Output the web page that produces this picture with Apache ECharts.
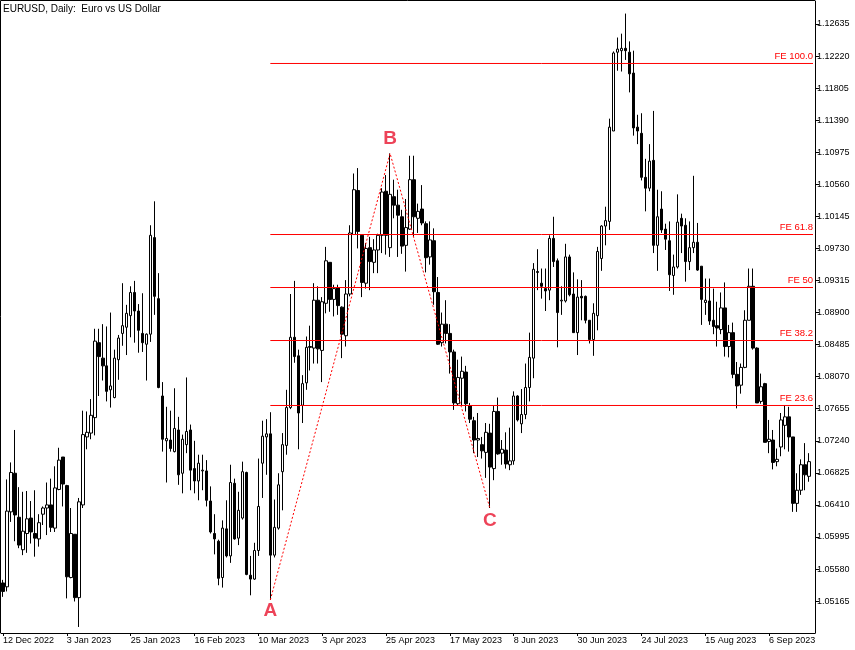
<!DOCTYPE html>
<html><head><meta charset="utf-8">
<script src="https://cdn.jsdelivr.net/npm/echarts@6/dist/echarts.min.js"></script>
<style>html,body{margin:0;padding:0;background:#fff}#c{width:855px;height:650px}</style>
</head><body><div id="c"></div><script>
const titleText = 'EURUSD, Daily:  Euro vs US Dollar';
const opens = [1.0540,1.0535,1.0632,1.0682,1.0625,1.0583,1.0604,1.0624,1.0604,1.0597,
1.0629,1.0637,1.0641,1.0611,1.0661,1.0703,1.0666,1.0547,1.0603,1.0521,
1.0641,1.0729,1.0734,1.0754,1.0851,1.0831,1.0821,1.0790,1.0780,1.0829,
1.0863,1.0871,1.0886,1.0916,1.0892,1.0863,1.0849,1.0862,1.0987,1.0908,
1.0782,1.0724,1.0725,1.0710,1.0738,1.0682,1.0719,1.0738,1.0688,1.0672,
1.0685,1.0685,1.0646,1.0604,1.0594,1.0547,1.0610,1.0575,1.0669,1.0598,
1.0624,1.0683,1.0550,1.0545,1.0582,1.0695,1.0729,1.0733,1.0576,1.0611,
1.0684,1.0718,1.0767,1.0858,1.0834,1.0770,1.0799,1.0846,1.0844,1.0906,
1.0841,1.0902,1.0955,1.0907,1.0922,1.0897,1.0860,1.0914,1.0991,1.1048,
1.0990,1.0928,1.0974,1.0955,1.0971,1.0990,1.1047,1.0974,1.1040,1.1029,
1.1014,1.0977,1.0998,1.1062,1.1012,1.1024,1.1005,1.0962,1.0983,1.0916,
1.0851,1.0875,1.0863,1.0839,1.0772,1.0805,1.0813,1.0769,1.0750,1.0725,
1.0719,1.0709,1.0734,1.0688,1.0762,1.0708,1.0712,1.0693,1.0698,1.0782,
1.0746,1.0758,1.0793,1.0831,1.0943,1.0928,1.0921,1.0919,1.0986,1.0957,
1.0905,1.0905,1.0962,1.0914,1.0864,1.0911,1.0911,1.0880,1.0855,1.0886,
1.0960,1.1002,1.1008,1.1125,1.1227,1.1229,1.1232,1.1227,1.1200,1.1130,
1.1122,1.1065,1.1051,1.1087,1.0977,1.1024,1.0998,1.0983,1.0938,1.0949,
1.1012,1.1003,1.0956,1.0974,1.0981,1.0950,1.0903,1.0905,1.0880,1.0873,
1.0868,1.0896,1.0846,1.0864,1.0810,1.0796,1.0819,1.0880,1.0924,1.0844,
1.0775,1.0798,1.0723,1.0725,1.0697,1.0716,1.0744,1.0755,1.0729,1.0643,
1.0660,1.0693,1.0678];
const highs = [1.0544,1.0674,1.0696,1.0738,1.0664,1.0658,1.0659,1.0646,1.0660,1.0629,
1.0639,1.0670,1.0675,1.0691,1.0715,1.0703,1.0667,1.0637,1.0603,1.0650,
1.0763,1.0762,1.0778,1.0869,1.0869,1.0875,1.0872,1.0890,1.0842,1.0861,
1.0928,1.0900,1.0924,1.0931,1.0901,1.0915,1.0863,1.1003,1.1034,1.0941,
1.0800,1.0768,1.0763,1.0792,1.0755,1.0732,1.0806,1.0745,1.0724,1.0706,
1.0706,1.0699,1.0665,1.0629,1.0596,1.0621,1.0647,1.0693,1.0675,1.0658,
1.0697,1.0684,1.0575,1.0592,1.0701,1.0750,1.0752,1.0761,1.0648,1.0682,
1.0734,1.0790,1.0914,1.0931,1.0842,1.0809,1.0859,1.0873,1.0928,1.0924,
1.0910,1.0975,1.0955,1.0926,1.0926,1.0898,1.0932,1.1003,1.1070,1.1077,
1.0990,1.0980,1.0988,1.0985,1.0992,1.1051,1.1068,1.1096,1.1062,1.1049,
1.1023,1.1037,1.1093,1.1093,1.1031,1.1055,1.1008,1.1008,1.0999,1.0936,
1.0890,1.0906,1.0875,1.0842,1.0829,1.0833,1.0821,1.0773,1.0755,1.0760,
1.0729,1.0747,1.0746,1.0769,1.0780,1.0725,1.0735,1.0741,1.0788,1.0783,
1.0791,1.0824,1.0864,1.0954,1.0972,1.0947,1.0947,1.0990,1.1014,1.0960,
1.0924,1.0979,1.0965,1.0942,1.0933,1.0932,1.0912,1.0880,1.0902,1.0975,
1.1003,1.1027,1.1141,1.1228,1.1246,1.1251,1.1277,1.1241,1.1229,1.1146,
1.1148,1.1089,1.1108,1.1151,1.1049,1.1047,1.1005,1.1008,1.0965,1.1043,
1.1018,1.1012,1.1008,1.1067,1.1006,1.0950,1.0934,1.0934,1.0921,1.0904,
1.0916,1.0929,1.0874,1.0877,1.0826,1.0824,1.0893,1.0947,1.0947,1.0845,
1.0811,1.0799,1.0751,1.0738,1.0714,1.0760,1.0770,1.0768,1.0729,1.0682,
1.0700,1.0721,1.0708];
const lows = [1.0522,1.0529,1.0619,1.0594,1.0585,1.0576,1.0579,1.0591,1.0574,1.0587,
1.0615,1.0602,1.0606,1.0606,1.0660,1.0639,1.0520,1.0546,1.0516,1.0483,
1.0637,1.0713,1.0726,1.0731,1.0782,1.0802,1.0775,1.0767,1.0779,1.0803,
1.0847,1.0835,1.0858,1.0851,1.0838,1.0839,1.0802,1.0852,1.0887,1.0792,
1.0710,1.0670,1.0710,1.0709,1.0667,1.0656,1.0708,1.0660,1.0656,1.0647,
1.0660,1.0639,1.0604,1.0577,1.0537,1.0534,1.0573,1.0566,1.0596,1.0589,
1.0622,1.0550,1.0524,1.0544,1.0575,1.0650,1.0680,1.0518,1.0573,1.0609,
1.0634,1.0706,1.0765,1.0825,1.0713,1.0747,1.0790,1.0815,1.0824,1.0824,
1.0800,1.0889,1.0891,1.0885,1.0887,1.0831,1.0846,1.0911,1.0991,1.0973,
1.0910,1.0921,1.0919,1.0941,1.0941,1.0967,1.0965,1.0962,1.1012,1.0962,
1.0966,1.0943,1.0997,1.0988,1.0993,1.1003,1.0942,1.0952,1.0900,1.0848,
1.0846,1.0850,1.0811,1.0764,1.0770,1.0770,1.0762,1.0747,1.0708,1.0703,
1.0701,1.0676,1.0637,1.0673,1.0706,1.0693,1.0688,1.0686,1.0693,1.0749,
1.0734,1.0752,1.0775,1.0805,1.0919,1.0908,1.0892,1.0906,1.0949,1.0845,
1.0887,1.0903,1.0911,1.0864,1.0835,1.0880,1.0876,1.0850,1.0834,1.0867,
1.0944,1.0977,1.0997,1.1125,1.1203,1.1202,1.1217,1.1175,1.1119,1.1108,
1.1061,1.1021,1.1047,1.0967,1.0944,1.0993,1.0971,1.0918,1.0913,1.0947,
1.0967,1.0930,1.0945,1.0967,1.0944,1.0874,1.0887,1.0874,1.0862,1.0846,
1.0862,1.0833,1.0832,1.0805,1.0766,1.0785,1.0818,1.0880,1.0842,1.0773,
1.0772,1.0722,1.0708,1.0687,1.0691,1.0704,1.0713,1.0710,1.0632,1.0632,
1.0654,1.0660,1.0671];
const closes = [1.0529,1.0633,1.0683,1.0628,1.0589,1.0607,1.0623,1.0606,1.0598,1.0618,
1.0637,1.0641,1.0612,1.0663,1.0699,1.0668,1.0548,1.0604,1.0521,1.0645,
1.0732,1.0735,1.0757,1.0853,1.0833,1.0821,1.0788,1.0795,1.0831,1.0857,
1.0873,1.0889,1.0916,1.0892,1.0867,1.0851,1.0862,1.0990,1.0911,1.0793,
1.0726,1.0727,1.0714,1.0740,1.0680,1.0726,1.0736,1.0686,1.0672,1.0695,
1.0686,1.0647,1.0606,1.0597,1.0546,1.0611,1.0575,1.0670,1.0597,1.0634,
1.0684,1.0551,1.0545,1.0582,1.0639,1.0730,1.0733,1.0576,1.0612,1.0667,
1.0719,1.0767,1.0858,1.0833,1.0760,1.0798,1.0845,1.0845,1.0906,1.0843,
1.0904,1.0957,1.0907,1.0921,1.0899,1.0862,1.0914,1.0993,1.1049,1.0995,
1.0929,1.0973,1.0956,1.0971,1.0990,1.1046,1.0990,1.1043,1.1029,1.1016,
1.0976,1.1000,1.1062,1.1014,1.1021,1.1006,1.0961,1.0984,1.0917,1.0849,
1.0875,1.0863,1.0839,1.0773,1.0806,1.0814,1.0772,1.0752,1.0725,1.0727,
1.0711,1.0735,1.0690,1.0762,1.0707,1.0713,1.0694,1.0698,1.0782,1.0751,
1.0758,1.0793,1.0832,1.0946,1.0942,1.0924,1.0918,1.0986,1.0956,1.0890,
1.0906,1.0962,1.0913,1.0864,1.0910,1.0909,1.0880,1.0855,1.0889,1.0969,
1.1002,1.1009,1.1130,1.1226,1.1231,1.1232,1.1229,1.1199,1.1129,1.1125,
1.1065,1.1051,1.1086,1.0977,1.1014,1.0997,1.0985,1.0939,1.0949,1.1007,
1.1002,1.0956,1.0974,1.0981,1.0945,1.0907,1.0906,1.0879,1.0872,1.0870,
1.0896,1.0846,1.0864,1.0810,1.0795,1.0819,1.0880,1.0924,1.0844,1.0773,
1.0794,1.0722,1.0726,1.0696,1.0700,1.0751,1.0755,1.0729,1.0643,1.0660,
1.0693,1.0680,1.0697];
const priceTicks = [1.05165,1.05580,1.05995,1.06410,1.06825,1.07240,1.07655,1.08070,1.08485,1.08900,
1.09315,1.09730,1.10145,1.10560,1.10975,1.11390,1.11805,1.12220,1.12635];
const feNames = ['FE 23.6','FE 38.2','FE 50','FE 61.8','FE 100.0'];
const fePrices = [1.07697,1.08538,1.09224,1.09910,1.12124];
const abcNames = ['A','B','C'];
const abcIndex = [67,97,122];
const abcPrices = [lows[67], highs[97], lows[122]];

const monthNames = ['Jan','Feb','Mar','Apr','May','Jun','Jul','Aug','Sep','Oct','Nov','Dec'];
const dates = [];
(function(){
  const d = new Date(Date.UTC(2022,11,12));
  while (dates.length < opens.length) {
    const wd = d.getUTCDay();
    if (wd !== 0 && wd !== 6) dates.push(d.getUTCDate()+' '+monthNames[d.getUTCMonth()]+' '+d.getUTCFullYear());
    d.setUTCDate(d.getUTCDate()+1);
  }
  dates.push('');
})();
const lastIdx = dates.length - 1;
const FONT = '"Liberation Sans", Arial, sans-serif';
const RED = '#ff0000';
const LETTER = '#e8142e';

const candleData = opens.map((o,i)=>[o, closes[i], lows[i], highs[i]]);

const series = [{
  type: 'candlestick',
  data: candleData,
  barWidth: 3,
  itemStyle: {color:'#ffffff', color0:'#000000', borderColor:'#000000', borderColor0:'#000000', borderColorDoji:'#000000', borderWidth:1},
  z: 2
}];
feNames.forEach((nm,k)=>{
  series.push({
    type:'line', z:5, symbol:'circle', symbolSize:0, showSymbol:true, silent:true,
    itemStyle:{color:'rgba(0,0,0,0)'},
    lineStyle:{color:RED, width:1},
    label:{show:false},
    data:[[abcIndex[0], fePrices[k]], {value:[lastIdx, fePrices[k]],
      label:{show:true, formatter:nm, position:'top', align:'right', distance:2, color:RED, fontSize:9.5, fontFamily:FONT}}]
  });
});
series.push({
  type:'line', z:6, symbol:'none', silent:true,
  lineStyle:{color:RED, width:1, type:[2,2]},
  data: abcIndex.map((x,k)=>[x, abcPrices[k]])
});
series.push({
  type:'scatter', z:7, symbol:'circle', symbolSize:0, silent:true,
  itemStyle:{color:'rgba(0,0,0,0)'},
  data: abcIndex.map((x,k)=>({value:[x, abcPrices[k]],
    label:{show:true, formatter:abcNames[k], position: k===1?'top':'bottom', distance: k===1?5:(k===0?1:3),
      color:LETTER, fontSize:19, fontWeight:'bold', fontFamily:FONT}}))
});

const chart = echarts.init(document.getElementById('c'), null, {renderer:'canvas'});
chart.setOption({
  animation:false,
  backgroundColor:'#ffffff',
  title:{text:titleText, left:3, top:4, padding:0, textStyle:{fontSize:10, fontWeight:'normal', color:'#000', fontFamily:FONT}},
  grid:{left:-1, right:40, top:1, bottom:17, containLabel:false},
  xAxis:{type:'category', data:dates, boundaryGap:true,
    axisLine:{show:true, lineStyle:{color:'#000', width:1}},
    axisTick:{show:true, interval:15, alignWithLabel:true, length:3, lineStyle:{color:'#000'}},
    axisLabel:{interval:15, align:'left', margin:3, color:'#000', fontSize:9, fontFamily:FONT, hideOverlap:false},
    splitLine:{show:false}},
  yAxis:{type:'value', position:'right', min:1.047521, max:1.129328, scale:true,
    axisLine:{show:true, lineStyle:{color:'#000', width:1}},
    axisTick:{show:true, length:4, customValues:priceTicks, lineStyle:{color:'#000'}},
    axisLabel:{customValues:priceTicks, margin:2, color:'#000', fontSize:9, fontFamily:FONT, formatter:v=>v.toFixed(5)},
    splitLine:{show:false}},
  graphic:[{type:'polyline', silent:true, z:100, shape:{points:[[0.5,633],[0.5,0.5],[815,0.5]]}, style:{stroke:'#000', lineWidth:1, fill:null}}],
  series: series
});
</script></body></html>
